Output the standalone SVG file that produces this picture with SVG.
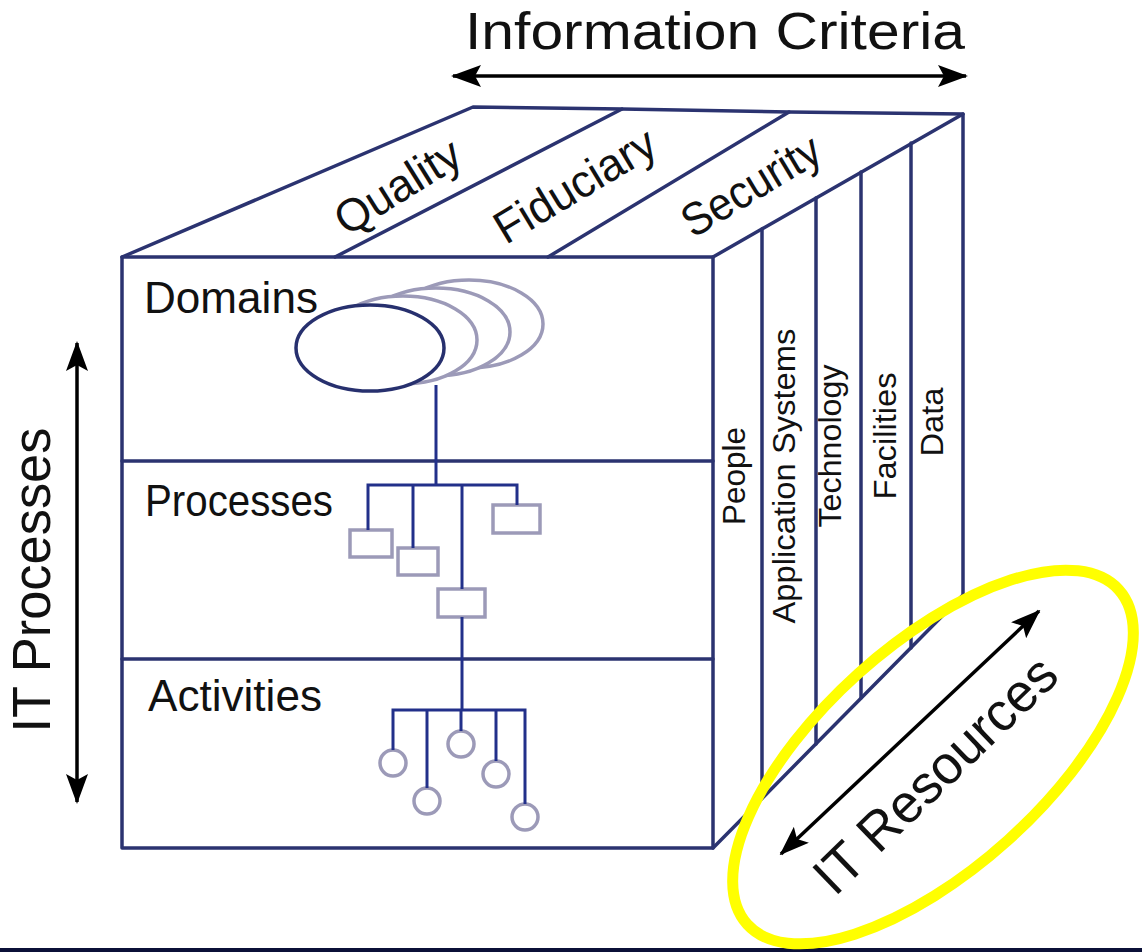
<svg xmlns="http://www.w3.org/2000/svg" width="1142" height="952" viewBox="0 0 1142 952">
<style>
.cube{fill:none;stroke:#2b3370;stroke-width:3.5;stroke-linejoin:round;stroke-linecap:round}
.tree{fill:none;stroke:#22308a;stroke-width:3}
.gray{fill:#ffffff;stroke:#9c9ab8;stroke-width:3.5}
.dom{fill:#ffffff;stroke:#27306e;stroke-width:3.5}
.lbl{font-family:"Liberation Sans",Arial,sans-serif;fill:#111111}
.arr{stroke:#000000;stroke-width:3.5;fill:none}
</style>
<defs>
<marker id="ah" viewBox="0 0 30 22" markerUnits="userSpaceOnUse" markerWidth="30" markerHeight="22" refX="28" refY="11" orient="auto-start-reverse">
<path d="M0,0 L30,11 L0,22 L6,11 z" fill="#000000"/>
</marker>
</defs>
<rect x="0" y="0" width="1142" height="952" fill="#ffffff"/>
<rect x="0" y="948" width="1142" height="4" fill="#0b1038"/>

<g id="cube">
<rect class="cube" x="122" y="257" width="591" height="591"/>
<line class="cube" x1="122" y1="461" x2="713" y2="461"/>
<line class="cube" x1="122" y1="659" x2="713" y2="659"/>
<polyline class="cube" points="122,257 473,107 622,109 789,112 963,114 963,595 713,848"/>
<line class="cube" x1="335" y1="257" x2="622" y2="109"/>
<line class="cube" x1="548" y1="257" x2="789" y2="112"/>
<line class="cube" x1="713" y1="257" x2="963" y2="114"/>
<line class="cube" x1="762" y1="229" x2="762" y2="798"/>
<line class="cube" x1="816" y1="198" x2="816" y2="744"/>
<line class="cube" x1="861" y1="172" x2="861" y2="698"/>
<line class="cube" x1="911" y1="143" x2="911" y2="648"/>
</g>

<g id="criteria">
<text class="lbl" x="465" y="49" font-size="52" textLength="500" lengthAdjust="spacingAndGlyphs">Information Criteria</text>
<text class="lbl" font-size="46" text-anchor="middle" textLength="140" lengthAdjust="spacingAndGlyphs" transform="translate(406,200) rotate(-32)">Quality</text>
<text class="lbl" font-size="46" text-anchor="middle" textLength="180" lengthAdjust="spacingAndGlyphs" transform="translate(583,199) rotate(-31)">Fiduciary</text>
<text class="lbl" font-size="46" text-anchor="middle" textLength="154" lengthAdjust="spacingAndGlyphs" transform="translate(759,199) rotate(-31)">Security</text>
</g>

<g id="resources-labels">
<text class="lbl" font-size="32" text-anchor="middle" textLength="98" lengthAdjust="spacingAndGlyphs" transform="translate(745,476) rotate(-90)">People</text>
<text class="lbl" font-size="32" text-anchor="middle" textLength="295" lengthAdjust="spacingAndGlyphs" transform="translate(795,476) rotate(-90)">Application Systems</text>
<text class="lbl" font-size="32" text-anchor="middle" textLength="163" lengthAdjust="spacingAndGlyphs" transform="translate(841,446) rotate(-90)">Technology</text>
<text class="lbl" font-size="32" text-anchor="middle" textLength="127" lengthAdjust="spacingAndGlyphs" transform="translate(896,436) rotate(-90)">Facilities</text>
<text class="lbl" font-size="32" text-anchor="middle" textLength="69" lengthAdjust="spacingAndGlyphs" transform="translate(943,422) rotate(-90)">Data</text>
</g>

<g id="domains">
<text class="lbl" x="144" y="313" font-size="44" textLength="174" lengthAdjust="spacingAndGlyphs">Domains</text>
<ellipse class="gray" cx="469" cy="324" rx="74" ry="44"/>
<ellipse class="gray" cx="436" cy="332" rx="74" ry="44"/>
<ellipse class="gray" cx="403" cy="340" rx="74" ry="44"/>
<ellipse class="dom" cx="370" cy="348" rx="74" ry="43"/>
</g>

<g id="processes">
<text class="lbl" x="145" y="516" font-size="44" textLength="188" lengthAdjust="spacingAndGlyphs">Processes</text>
<rect class="gray" x="350" y="530" width="42" height="27"/>
<rect class="gray" x="398" y="548" width="40" height="27"/>
<rect class="gray" x="438" y="589" width="47" height="28"/>
<rect class="gray" x="493" y="505" width="47" height="28"/>
</g>

<g id="activities">
<text class="lbl" x="148" y="711" font-size="44" textLength="174" lengthAdjust="spacingAndGlyphs">Activities</text>
<circle class="gray" cx="393" cy="763" r="13"/>
<circle class="gray" cx="427" cy="801" r="13"/>
<circle class="gray" cx="461" cy="744" r="13"/>
<circle class="gray" cx="496" cy="774" r="13"/>
<circle class="gray" cx="525" cy="817" r="13"/>
</g>

<g id="connectors">
<line class="tree" x1="436" y1="385" x2="436" y2="485"/>
<polyline class="tree" points="368,530 368,485 517,485 517,505"/>
<line class="tree" x1="413" y1="485" x2="413" y2="548"/>
<line class="tree" x1="462" y1="485" x2="462" y2="589"/>
<line class="tree" x1="462" y1="617" x2="462" y2="710"/>
<polyline class="tree" points="393,750 393,710 525,710 525,804"/>
<line class="tree" x1="427" y1="710" x2="427" y2="788"/>
<line class="tree" x1="461" y1="710" x2="461" y2="731"/>
<line class="tree" x1="496" y1="710" x2="496" y2="761"/>
</g>

<g id="it-processes">
<line class="arr" x1="77" y1="343" x2="77" y2="802" marker-start="url(#ah)" marker-end="url(#ah)"/>
<text class="lbl" font-size="54" text-anchor="middle" textLength="305" lengthAdjust="spacingAndGlyphs" transform="translate(50,580) rotate(-90)">IT Processes</text>
</g>

<g id="info-arrow">
<line class="arr" x1="453" y1="76" x2="966" y2="76" marker-start="url(#ah)" marker-end="url(#ah)"/>
</g>

<g id="it-resources">
<ellipse cx="933" cy="757" rx="250" ry="112" fill="none" stroke="#ffff00" stroke-width="11" transform="rotate(-42 933 757)"/>
<line class="arr" x1="781" y1="854" x2="1039" y2="611" marker-start="url(#ah)" marker-end="url(#ah)"/>
<text class="lbl" font-size="54" text-anchor="middle" textLength="315" lengthAdjust="spacingAndGlyphs" transform="translate(948,788) rotate(-44)">IT Resources</text>
</g>
</svg>
